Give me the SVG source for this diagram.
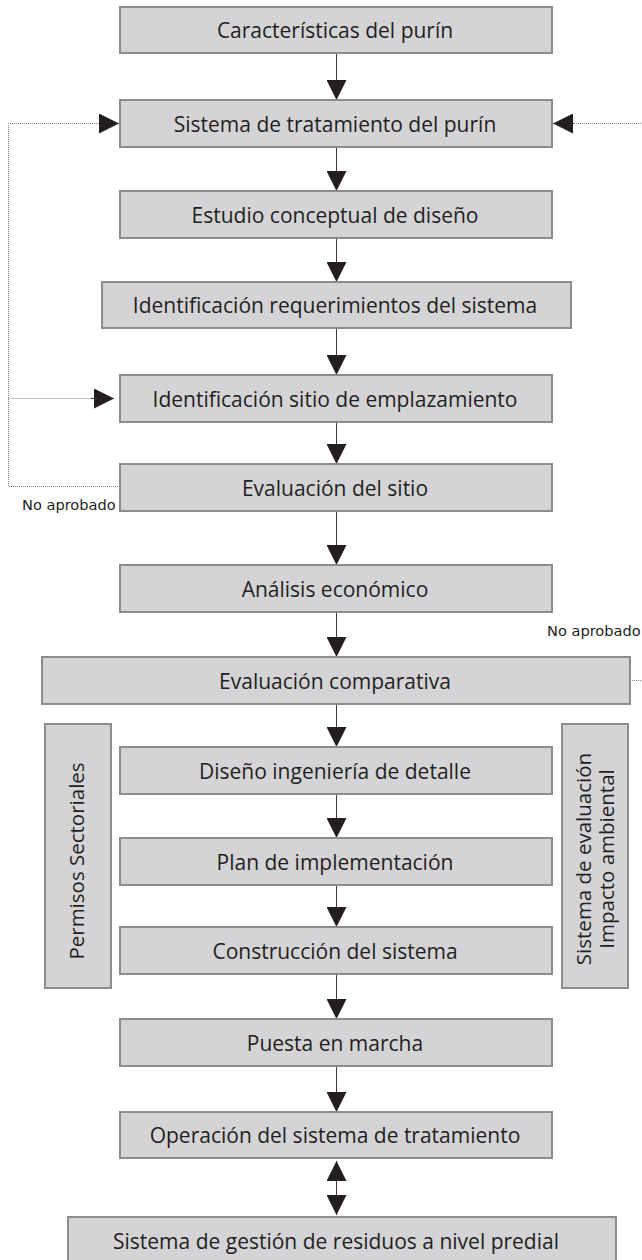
<svg xmlns="http://www.w3.org/2000/svg" width="642" height="1260" viewBox="0 0 642 1260">
<style>
.box{fill:#d4d4d6;stroke:#8c8c8c;stroke-width:2}
.t{font-family:"Open Sans","Noto Sans",sans-serif;font-size:21px;fill:#231f20;text-anchor:middle}
.v{font-family:"Open Sans","Noto Sans",sans-serif;font-size:20.5px;fill:#231f20;text-anchor:middle}
.lbl{font-family:"DejaVu Sans","Verdana",sans-serif;font-size:14.6px;fill:#231f20}
.ln{stroke:#3a3a3a;stroke-width:1;fill:none}
.dot{stroke:#808080;stroke-width:1;stroke-dasharray:1 1;fill:none}
</style>
<defs>
<marker id="ah" markerUnits="userSpaceOnUse" markerWidth="20" markerHeight="20" viewBox="0 0 20 20" refX="20" refY="10" orient="auto-start-reverse">
<path d="M0,0 L20,10 L0,20 Z" fill="#231f20"/>
</marker>
</defs>
<g id="connectors">
<line class="ln" x1="336.5" y1="53" x2="336.5" y2="100" marker-end="url(#ah)"/>
<line class="ln" x1="336.5" y1="147" x2="336.5" y2="191" marker-end="url(#ah)"/>
<line class="ln" x1="336.5" y1="238" x2="336.5" y2="282" marker-end="url(#ah)"/>
<line class="ln" x1="336.5" y1="328" x2="336.5" y2="375" marker-end="url(#ah)"/>
<line class="ln" x1="336.5" y1="422" x2="336.5" y2="464" marker-end="url(#ah)"/>
<line class="ln" x1="336.5" y1="511" x2="336.5" y2="565" marker-end="url(#ah)"/>
<line class="ln" x1="336.5" y1="612" x2="336.5" y2="657" marker-end="url(#ah)"/>
<line class="ln" x1="336.5" y1="704" x2="336.5" y2="747" marker-end="url(#ah)"/>
<line class="ln" x1="336.5" y1="794" x2="336.5" y2="838" marker-end="url(#ah)"/>
<line class="ln" x1="336.5" y1="885" x2="336.5" y2="927" marker-end="url(#ah)"/>
<line class="ln" x1="336.5" y1="974" x2="336.5" y2="1019" marker-end="url(#ah)"/>
<line class="ln" x1="336.5" y1="1066" x2="336.5" y2="1112" marker-end="url(#ah)"/>
<line class="ln" x1="336.5" y1="1161" x2="336.5" y2="1215" marker-start="url(#ah)" marker-end="url(#ah)"/>
<path class="dot" d="M120,486.5 H8.5 V123.5 H100"/>
<line class="dot" x1="8.5" y1="398.5" x2="92" y2="398.5"/>
<line class="ln" x1="99" y1="123.5" x2="119" y2="123.5" marker-end="url(#ah)"/>
<line class="ln" x1="91" y1="398.5" x2="114" y2="398.5" marker-end="url(#ah)"/>
<path class="dot" d="M630,680.5 H660 V123.5 H573"/>
<line class="ln" x1="574" y1="123.5" x2="553" y2="123.5" marker-end="url(#ah)"/>
</g>
<g id="n1"><rect class="box" x="120" y="7" width="432" height="46"/><text class="t" x="335" y="38">Características del purín</text></g>
<g id="n2"><rect class="box" x="120" y="100" width="432" height="47"/><text class="t" x="335" y="131.5">Sistema de tratamiento del purín</text></g>
<g id="n3"><rect class="box" x="120" y="191" width="432" height="47"/><text class="t" x="335" y="222.5">Estudio conceptual de diseño</text></g>
<g id="n4"><rect class="box" x="102" y="282" width="469" height="46"/><text class="t" x="335" y="313">Identificación requerimientos del sistema</text></g>
<g id="n5"><rect class="box" x="120" y="375" width="432" height="47"/><text class="t" x="335" y="406.5">Identificación sitio de emplazamiento</text></g>
<g id="n6"><rect class="box" x="120" y="464" width="432" height="47"/><text class="t" x="335" y="495.5">Evaluación del sitio</text></g>
<g id="n7"><rect class="box" x="120" y="565" width="432" height="47"/><text class="t" x="335" y="596.5">Análisis económico</text></g>
<g id="n8"><rect class="box" x="42" y="657" width="588" height="47"/><text class="t" x="335" y="688.5">Evaluación comparativa</text></g>
<g id="n9"><rect class="box" x="120" y="747" width="432" height="47"/><text class="t" x="335" y="778.5">Diseño ingeniería de detalle</text></g>
<g id="n10"><rect class="box" x="120" y="838" width="432" height="47"/><text class="t" x="335" y="869.5">Plan de implementación</text></g>
<g id="n11"><rect class="box" x="120" y="927" width="432" height="47"/><text class="t" x="335" y="958.5">Construcción del sistema</text></g>
<g id="n12"><rect class="box" x="120" y="1019" width="432" height="47"/><text class="t" x="335" y="1050.5">Puesta en marcha</text></g>
<g id="n13"><rect class="box" x="120" y="1112" width="432" height="46"/><text class="t" x="335" y="1143">Operación del sistema de tratamiento</text></g>
<g id="n14"><rect class="box" x="68" y="1217" width="548" height="47"/><text class="t" x="336" y="1248.5">Sistema de gestión de residuos a nivel predial</text></g>
<g id="side-left"><rect class="box" x="45" y="724" width="66" height="264"/><text class="v" transform="translate(84,861) rotate(-90)">Permisos Sectoriales</text></g>
<g id="side-right"><rect class="box" x="562" y="724" width="66" height="264"/><text class="v" transform="translate(591,859) rotate(-90)">Sistema de evaluación</text><text class="v" transform="translate(614,859) rotate(-90)">Impacto ambiental</text></g>
<g id="labels"><text class="lbl" x="22" y="510">No aprobado</text><text class="lbl" x="547" y="636">No aprobado</text></g>
</svg>
